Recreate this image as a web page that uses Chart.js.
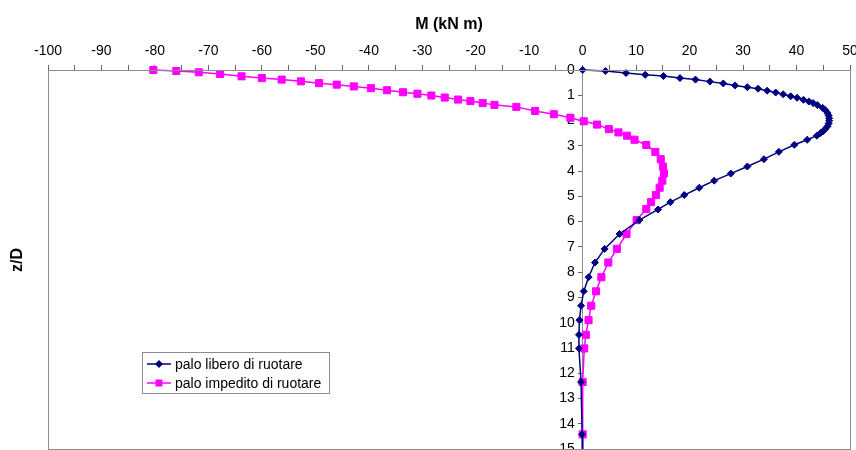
<!DOCTYPE html>
<html>
<head>
<meta charset="utf-8">
<script src="https://cdn.jsdelivr.net/npm/chart.js@4.4.0/dist/chart.umd.min.js"></script>
<style>
  html, body { margin: 0; padding: 0; background: #fff; overflow: hidden; }
  canvas { display: block; }
</style>
</head>
<body>
<canvas id="chart" width="856" height="455"></canvas>
<script>
// palo libero di ruotare : depth z/D and moment M (kN m)
var zLibero = [0, 0.04, 0.12, 0.19, 0.24, 0.32, 0.38, 0.46, 0.53, 0.61, 0.68, 0.74, 0.82, 0.89, 0.96,
  1.04, 1.10, 1.18, 1.25, 1.31, 1.39, 1.50, 1.59, 1.70, 1.80, 1.91, 2.01, 2.12, 2.23, 2.33, 2.42,
  2.49, 2.60, 2.76, 2.96, 3.24, 3.53, 3.82, 4.10, 4.38, 4.66, 4.95, 5.23, 5.52, 5.94, 6.49, 7.08,
  7.62, 8.20, 8.76, 9.33, 9.90, 10.48, 11.02, 12.35, 14.42, 16.5];
var mLibero = [0, 4.25, 8.1, 11.7, 15.1, 18.2, 21.1, 23.8, 26.3, 28.5, 30.8, 32.8, 34.5, 36.1, 37.5,
  38.9, 40.1, 41.3, 42.3, 43.1, 43.9, 44.9, 45.4, 45.8, 46.0, 46.1, 46.1, 46.0, 45.8, 45.4, 45.0,
  44.5, 43.8, 42.0, 39.6, 36.7, 33.9, 30.8, 27.7, 24.6, 21.8, 19.0, 16.4, 14.1, 10.6, 6.9, 4.1,
  2.3, 1.1, 0.2, -0.3, -0.6, -0.7, -0.7, -0.3, -0.1, 0];

// palo impedito di ruotare
var zImpedito = [0, 0.04, 0.09, 0.16, 0.25, 0.32, 0.38, 0.45, 0.52, 0.58, 0.65, 0.72, 0.80, 0.88,
  0.94, 1.01, 1.09, 1.17, 1.23, 1.31, 1.38, 1.46, 1.62, 1.75, 1.89, 2.03, 2.16, 2.34, 2.47, 2.60,
  2.76, 2.97, 3.24, 3.53, 3.82, 4.09, 4.38, 4.66, 4.95, 5.23, 5.50, 5.94, 6.49, 7.08, 7.62, 8.20,
  8.76, 9.33, 9.90, 10.48, 11.02, 12.35, 14.42, 16.5];
var mImpedito = [-80.3, -76.0, -71.8, -67.8, -63.8, -60.0, -56.3, -52.7, -49.3, -46.0, -42.8, -39.6,
  -36.6, -33.6, -30.9, -28.3, -25.8, -23.3, -21.0, -18.7, -16.5, -12.4, -8.9, -5.4, -2.3, 0.2, 2.7,
  4.9, 6.7, 8.3, 9.7, 11.9, 13.6, 14.6, 15.0, 15.2, 14.9, 14.4, 13.7, 12.8, 11.9, 10.1, 8.2, 6.4,
  4.8, 3.5, 2.5, 1.6, 1.1, 0.6, 0.3, 0.0, 0.0, 0.0];

var seriesNames = ['palo libero di ruotare', 'palo impedito di ruotare'];

// tick values (minor every 5, labelled every 10)
var xTickValues = [];
for (var v = -100; v <= 50; v += 5) xTickValues.push(v);
var yTickValues = [0, 1, 2, 3, 4, 5, 6, 7, 8, 9, 10, 11, 12, 13, 14, 15];

function toPoints(xs, ys) {
  return xs.map(function (x, i) { return { x: x, y: ys[i] }; });
}

var FONT = 'Arial, "Liberation Sans", sans-serif';

// frame, vertical title and legend box
var extras = {
  id: 'extras',
  afterDraw: function (chart) {
    var c = chart.ctx, a = chart.chartArea;
    c.save();
    c.strokeStyle = '#8c8c8c';
    c.lineWidth = 1;
    c.strokeRect(Math.round(a.left) + 0.5, Math.round(a.top) + 0.5,
      Math.round(a.right - a.left), Math.round(a.bottom - a.top));

    // y title
    c.fillStyle = '#000';
    c.font = 'bold 16px ' + FONT;
    c.textAlign = 'center';
    c.textBaseline = 'middle';
    c.translate(18, 260);
    c.rotate(-Math.PI / 2);
    c.fillText('z/D', 0, 0);
    c.restore();

    // legend
    c.save();
    c.fillStyle = '#fff';
    c.fillRect(142, 352, 187, 41);
    c.strokeStyle = '#8c8c8c';
    c.strokeRect(142.5, 352.5, 187, 41);
    chart.data.datasets.forEach(function (ds, i) {
      var y = 364 + i * 19;
      c.strokeStyle = ds.borderColor;
      c.lineWidth = 1.5;
      c.beginPath();
      c.moveTo(147, y);
      c.lineTo(171, y);
      c.stroke();
      c.fillStyle = ds.pointBackgroundColor;
      c.beginPath();
      if (ds.pointStyle === 'rectRot') {
        c.moveTo(159, y - 4); c.lineTo(163, y); c.lineTo(159, y + 4); c.lineTo(155, y);
      } else {
        c.rect(155.5, y - 3.5, 7, 7);
      }
      c.closePath();
      c.fill();
      c.fillStyle = '#000';
      c.font = '14px ' + FONT;
      c.textAlign = 'left';
      c.textBaseline = 'middle';
      c.fillText(seriesNames[i], 175, y + 1);
    });
    c.restore();
  }
};

new Chart(document.getElementById('chart').getContext('2d'), {
  type: 'scatter',
  data: {
    datasets: [{
      label: seriesNames[0],
      data: toPoints(mLibero, zLibero),
      showLine: true,
      borderColor: '#000080',
      borderWidth: 1.5,
      pointStyle: 'rectRot',
      pointRadius: 3.5,
      pointBackgroundColor: '#000080',
      pointBorderColor: '#000080',
      pointBorderWidth: 1,
      clip: false
    }, {
      label: seriesNames[1],
      data: toPoints(mImpedito, zImpedito),
      showLine: true,
      borderColor: '#ff00ff',
      borderWidth: 1.5,
      pointStyle: 'rect',
      pointRadius: 5,
      pointBackgroundColor: '#ff00ff',
      pointBorderColor: '#ff00ff',
      pointBorderWidth: 1,
      clip: false
    }]
  },
  options: {
    responsive: false,
    animation: false,
    devicePixelRatio: 1,
    layout: { padding: { left: 48, right: 6, top: 10, bottom: 0 } },
    plugins: { legend: { display: false }, tooltip: { enabled: false } },
    scales: {
      x: {
        type: 'linear',
        position: 'top',
        min: -100,
        max: 50,
        afterBuildTicks: function (s) {
          s.ticks = xTickValues.map(function (v) { return { value: v }; });
        },
        afterFit: function (s) {
          s.height = 60;
          s.paddingLeft = 0;
          s.paddingRight = 0;
        },
        grid: { display: true, drawOnChartArea: false, tickLength: 5, tickColor: '#666' },
        border: { display: true, color: '#666' },
        ticks: {
          autoSkip: false,
          maxRotation: 0,
          padding: 5,
          color: '#000',
          font: { family: FONT, size: 14 },
          callback: function (v) { return v % 10 === 0 ? String(v) : ''; }
        },
        title: {
          display: true,
          text: 'M (kN m)',
          color: '#000',
          font: { family: FONT, size: 16, weight: 'bold' },
          padding: { top: 5, bottom: 4 }
        }
      },
      y: {
        type: 'linear',
        position: { x: 0 },
        reverse: true,
        min: 0,
        max: 15,
        afterBuildTicks: function (s) {
          s.ticks = yTickValues.map(function (v) { return { value: v }; });
        },
        afterFit: function (s) {
          s.paddingTop = 0;
          s.paddingBottom = 0;
        },
        grid: { display: true, drawOnChartArea: false, tickLength: 4, tickColor: '#666' },
        border: { display: true, color: '#8c8c8c' },
        ticks: {
          autoSkip: false,
          color: '#000',
          font: { family: FONT, size: 14 },
          // labels sit left of the axis line, which crosses at M = 0
          callback: function (v) { return String(v) + '  '; }
        }
      }
    }
  },
  plugins: [extras]
});
</script>
</body>
</html>
